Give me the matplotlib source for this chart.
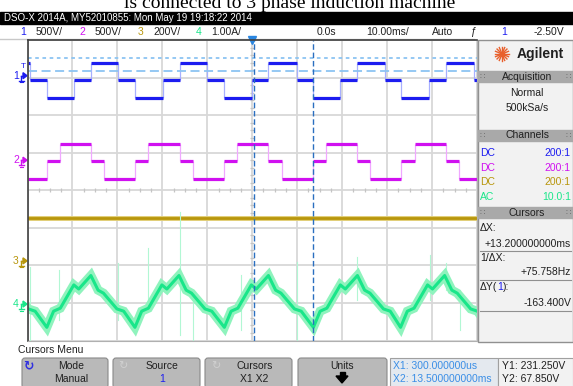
import matplotlib.pyplot as plt
import numpy as np
from matplotlib.patches import Rectangle, FancyBboxPatch, Polygon
from matplotlib import font_manager

W, H = 573, 386

# graticule box on the screen, in pixels
GX0, GX1, GY0, GY1 = 27.5, 477.0, 40.0, 340.5
DIV_PX = (GY1 - GY0) / 8
YMID = (GY0 + GY1) / 2

# channel setup: units per division, ground offset in divisions
ch_scale = [500, 500, 200, 1.0]
ch_offset = [3.05, 0.8, -1.88, -3.03]
ch_color = ['#1c1cf0', '#d010f0', '#b8960c', '#19e68a']
ch_light = ['#a8b0ff', '#f0a8ff', '#e0cc80', '#a8f7d0']

# ch1: switching instants (ms) and level after each one (V)
ch1_edges = [-49.4, -45.7, -39.6, -35.9, -29.8, -26.1, -19.8, -16.0, -10.0, -6.2,
             0.0, 3.6, 10.0, 13.6, 19.6, 23.4, 29.6, 33.0, 39.4, 43.0, 49.4]
ch1_volts = [173, -57, -293, -57, 173, -57, -293, -57, 173, -57, -293,
             -57, 173, -57, -293, -57, 173, -57, -293, -57, 173, -57]

# ch2
ch2_edges = [-45.7, -42.8, -35.9, -33.0, -26.1, -23.2, -16.0, -13.1, -6.2, -3.3,
             3.6, 6.7, 13.6, 16.5, 23.4, 26.3, 33.2, 36.1, 43.2, 46.1]
ch2_volts = [-249, -9, 222, -9, -249, -9, 222, -9, -249, -9, 222,
             -9, -249, -9, 222, -9, -249, -9, 222, -9, -249]

# ch3: dc link
ch3_volts = 230

# ch4: phase current, one cycle measured from its minimum, repeated at each minimum
ch4_troughs = [-65.4, -45.7, -26.1, -6.2, 13.6, 33.0, 52.7]
ch4_cycle_t = [0.0, 1.5, 3.0, 6.0, 7.1, 9.8, 11.4, 12.6, 15.6, 17.1]
ch4_cycle_i = [-0.62, -0.19, -0.11, 0.51, 0.40, 0.76, 0.37, 0.29, -0.13, -0.19]
# switching spikes on the current trace: time (ms), top (A), bottom (A)
ch4_spikes = [(-49.4, 0.99, -0.96), (-43.0, 0.91, -0.43), (-29.8, 1.09, -0.43),
              (-23.2, 1.49, 0.11), (-16.0, 2.45, -0.83), (-13.1, 0.10, -0.96),
              (-2.4, 0.77, -0.69), (10.0, 1.12, -0.96), (23.4, 1.25, 0.10),
              (39.6, 1.30, 0.10), (43.0, 1.10, 0.37), (46.3, 0.37, -0.70)]

# cursors
x1_ms, x2_ms = 0.3, 13.5
y1_v, y2_v = 231.25, 67.85

names = {f.name for f in font_manager.fontManager.ttflist}
UI = 'Liberation Sans Narrow' if 'Liberation Sans Narrow' in names else 'Liberation Sans'

fig = plt.figure(figsize=(W / 100, H / 100), dpi=100)
fig.patch.set_facecolor('white')

# full-screen layer in pixel units for the scope furniture
ov = fig.add_axes([0, 0, 1, 1])
ov.set_xlim(0, W)
ov.set_ylim(H, 0)
ov.axis('off')


def txt(x, y, s, size=7.5, color='#202020', ha='left', **kw):
    return ov.text(x, y, s, fontsize=size, color=color, ha=ha, va='center', family=UI, **kw)


# caption left over from the page above the screenshot
ov.text(290, 8.5, 'is connected to 3 phase induction machine', fontsize=14,
        family='Liberation Serif', ha='center', va='baseline', color='black')

# title bar
ov.add_patch(Rectangle((0, 11.5), W, 12.5, color='black'))
txt(4, 18, 'DSO-X 2014A, MY52010855: Mon May 19 19:18:22 2014', size=7, color='white')

# channel / timebase row
row = [(20, '1', ch_color[0]), (36, '500V/', '#202020'),
       (79, '2', ch_color[1]), (95, '500V/', '#202020'),
       (138, '3', ch_color[2]), (153, '200V/', '#202020'),
       (196, '4', ch_color[3]), (211, '1.00A/', '#202020'),
       (317, '0.0s', '#202020'), (366, '10.00ms/', '#202020'),
       (432, 'Auto', '#202020'), (501, '1', ch_color[0]), (534, '-2.50V', '#202020')]
for x, s, c in row:
    txt(x, 32, s, color=c)
txt(470, 32, '\u0192', color='#202020')
ov.plot([0, 474], [38.5, 38.5], color='#c8c8c8', lw=1)

# ground markers left of the graticule
for k, lab in enumerate(['1', '2', '3', '4']):
    y = YMID - ch_offset[k] * DIV_PX
    txt(16, y, lab, size=7.5, color=ch_color[k], ha='center')
    ov.add_patch(Polygon([[23, y - 3], [27, y], [23, y + 3]], color=ch_color[k]))
    ov.plot([21, 23], [y, y], color=ch_color[k], lw=1)
    ov.plot([21, 21], [y, y + 5], color=ch_color[k], lw=1)
    ov.plot([18.5, 23.5], [y + 5, y + 5], color=ch_color[k], lw=1)
    ov.plot([19.5, 22.5], [y + 6.5, y + 6.5], color=ch_color[k], lw=0.8)
txt(23, 66, 'T', size=6, color=ch_color[0], ha='center')

# right side panel
ov.add_patch(Rectangle((477.5, 40), W - 477.5, 302, facecolor='#f2f2f2',
                       edgecolor='#909090', lw=1))
star_x, star_y = 502, 54
for a in np.linspace(0, np.pi, 8, endpoint=False):
    dx, dy = 7 * np.cos(a), 7 * np.sin(a)
    ov.plot([star_x - dx, star_x + dx], [star_y - dy, star_y + dy], color='#e8602c', lw=1)
ov.plot(star_x, star_y, 'o', ms=3, color='#e8602c')
ov.text(517, 54, 'Agilent', fontsize=10, fontweight='bold', family='Liberation Sans',
        va='center', color='#202020')


def panel_header(y, label):
    ov.add_patch(Rectangle((478, y - 5.5), W - 478, 11, color='#a9a9a9'))
    txt(527, y, label, color='#202020', ha='center')
    for gx in (482, 568):
        ov.text(gx, y, '\u2237', fontsize=6, color='#707070', ha='center', va='center')


panel_header(76.5, 'Acquisition')
txt(527, 93, 'Normal', ha='center')
txt(527, 108, '500kSa/s', ha='center')
panel_header(135.5, 'Channels')
panel_rows = [('DC', '200:1'), ('DC', '200:1'), ('DC', '200:1'), ('AC', '10.0:1')]
for k, (cpl, probe) in enumerate(panel_rows):
    y = 153 + k * 14.7
    txt(480, y, cpl, color=ch_color[k])
    txt(571, y, probe, color=ch_color[k], ha='right')
panel_header(212.5, 'Cursors')
txt(480, 228, '\u0394X:')
txt(571, 244, '+13.200000000ms', ha='right')
ov.plot([480, 571], [251, 251], color='#909090', lw=0.8)
txt(480, 258, '1/\u0394X:')
txt(571, 272, '+75.758Hz', ha='right')
ov.plot([480, 571], [280, 280], color='#909090', lw=0.8)
dy_lab = txt(480, 287, '\u0394Y(')
dy_src = ov.annotate('1', xy=(1, 0.5), xycoords=dy_lab, va='center', ha='left',
                     fontsize=7.5, family=UI, color=ch_color[0])
ov.annotate('):', xy=(1, 0.5), xycoords=dy_src, va='center', ha='left',
            fontsize=7.5, family=UI, color='#202020')
txt(571, 303, '-163.400V', ha='right')
ov.plot([480, 571], [311, 311], color='#909090', lw=0.8)

# softkey menu
txt(18, 350, 'Cursors Menu')
keys = [(22, 108, 'Mode', 'Manual', '#202020'), (113, 200, 'Source', '1', ch_color[0]),
        (205, 292, 'Cursors', 'X1 X2', '#202020'), (298, 387, 'Units', '', '#202020')]
for x0, x1, top, bottom, bc in keys:
    ov.add_patch(FancyBboxPatch((x0, 358), x1 - x0, 30, boxstyle='round,pad=0,rounding_size=3',
                                facecolor='#b9b9b9', edgecolor='#8a8a8a', lw=0.8))
    cx = (x0 + x1) / 2 + (6 if bottom in ('Manual', '1', 'X1 X2') else 0)
    txt(cx, 366, top, ha='center')
    if bottom:
        txt(cx, 379, bottom, color=bc, ha='center')
ov.text(28, 366, '\u21bb', fontsize=9, color='#3030e0', ha='center', va='center', fontweight='bold')
for ix in (123, 216):
    ov.text(ix, 366, '\u21bb', fontsize=8, color='#d0d0d0', ha='center', va='center')
ov.add_patch(Polygon([[336, 376], [348, 376], [342, 383]], color='black'))
ov.add_patch(Rectangle((339.5, 372), 5, 4.5, color='black'))

ov.add_patch(Rectangle((390, 358), 108, 30, facecolor='#e4e9ef', edgecolor='#a0a0a0', lw=0.8))
ov.add_patch(Rectangle((498, 358), 75, 30, facecolor='#f2f2f2', edgecolor='#a0a0a0', lw=0.8))
txt(393, 366, 'X1: 300.000000us', color='#3a8ee6')
txt(393, 379, 'X2: 13.500000000ms', color='#3a8ee6')
txt(502, 366, 'Y1: 231.250V')
txt(502, 379, 'Y2: 67.850V')

# graticule with the traces
ax = fig.add_axes([GX0 / W, 1 - GY1 / H, (GX1 - GX0) / W, (GY1 - GY0) / H])
ax.set_zorder(3)
ax.set_facecolor('white')
ax.set_xlim(-50, 50)
ax.set_ylim(-4, 4)
ax.set_xticks(np.arange(-50, 51, 10))
ax.set_yticks(np.arange(-4, 5, 1))
ax.tick_params(length=0, labelbottom=False, labelleft=False)
ax.grid(color='#d8d8d8', lw=1.3)
for side in ('left', 'top'):
    ax.spines[side].set_color('#404040')
    ax.spines[side].set_linewidth(1.2)
for side in ('right', 'bottom'):
    ax.spines[side].set_color('#b0b0b0')

# minor ticks on the centre lines
mx = [t for t in np.arange(-50, 50.1, 2.5) if t % 10]
ax.plot(mx, np.zeros(len(mx)), '|', color='#c4c4c4', ms=3.5, mew=0.9)
my = [v for v in np.arange(-4, 4.01, 0.2) if abs(v - round(v)) > 0.01]
ax.plot(np.zeros(len(my)), my, '_', color='#c4c4c4', ms=3.5, mew=0.9)


def draw_steps(edges, values, ch):
    t = [-50] + edges + [50]
    y = [ch_offset[ch] + v / ch_scale[ch] for v in values]
    ax.vlines(edges, y[:-1], y[1:], color=ch_light[ch], lw=0.9)
    ax.hlines(y, t[:-1], t[1:], color=ch_color[ch], lw=2.3)


draw_steps(ch1_edges, ch1_volts, 0)
draw_steps(ch2_edges, ch2_volts, 1)

y3 = ch_offset[2] + ch3_volts / ch_scale[2]
ax.plot([-50, 50], [y3, y3], color='#e2cf7a', lw=3.6)
ax.plot([-50, 50], [y3, y3], color=ch_color[2], lw=2.0)

t4, i4 = [], []
for t0 in ch4_troughs:
    t4 += [t0 + s for s in ch4_cycle_t]
    i4 += ch4_cycle_i
y4 = ch_offset[3] + np.array(i4) / ch_scale[3]
for ts, top, bot in ch4_spikes:
    ax.plot([ts, ts], [ch_offset[3] + bot, ch_offset[3] + top], color='#b2f7d4', lw=0.8)
ax.plot(t4, y4, color='#8ff3bd', lw=6.5, solid_joinstyle='miter')
ax.plot(t4, y4, color='#19e68a', lw=2.2)

# cursors
for yv, dash in ((y1_v, (2, 2)), (y2_v, (5, 2.5))):
    yc = ch_offset[0] + yv / ch_scale[0]
    ax.plot([-50, 50], [yc, yc], color='#8cc4f2', lw=1.3, dashes=dash)
for xv in (x1_ms, x2_ms):
    ax.plot([xv, xv], [-4, 4], color='#2a6fc0', lw=1, dashes=(4, 2))
ax.plot(0, 4, marker='v', ms=6, color='#2a86e0', clip_on=False)

fig.savefig('out.png', dpi=100)
